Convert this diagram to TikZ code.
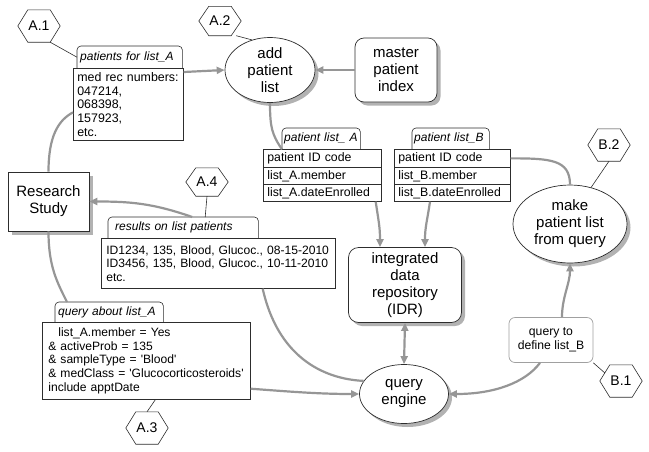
\documentclass[tikz,border=0pt]{standalone}
\usepackage{fontspec}
\setmainfont{Liberation Sans}
\usetikzlibrary{arrows.meta,shapes.geometric,shadows,calc}
\definecolor{conng}{RGB}{150,150,150}
\definecolor{edgec}{RGB}{45,45,45}
\definecolor{lightedge}{RGB}{160,160,160}
\newcommand\fbigtxt{\fontsize{15}{17}\selectfont}
\newcommand\fhextxt{\fontsize{14}{16}\selectfont}
\newcommand\fboxtxt{\fontsize{12.1}{13.6}\selectfont}
\newcommand\fmedtxt{\fontsize{12.4}{13.7}\selectfont}
\newcommand\frowtxt{\fontsize{12.3}{14}\selectfont}
\newcommand\ftabtxt{\fontsize{12}{13}\selectfont\itshape}
\newcommand\fqdtxt{\fontsize{12.2}{14}\selectfont}
\pgfdeclarelayer{bg}
\pgfsetlayers{bg,main}
\begin{document}
\begin{tikzpicture}[x=1pt,y=-1pt,
  shad/.style={drop shadow={shadow xshift=3.5pt,shadow yshift=-3.5pt,opacity=0.3,fill=black}},
  big/.style={font=\fbigtxt, align=center, inner sep=0pt},
  ell/.style={ellipse, draw=edgec, fill=white, line width=0.7pt, shad, big},
  rbox/.style={rectangle, rounded corners=9pt, draw=edgec, fill=white, line width=0.7pt, shad, big},
  sbox/.style={rectangle, draw=edgec, fill=white, line width=0.7pt, shad, big},
  qdefn/.style={rectangle, rounded corners=6pt, draw=lightedge, fill=white, line width=0.7pt, font=\fqdtxt, align=center, inner sep=0pt},
  hexn/.style={minimum width=22pt, inner sep=0pt, font=\fhextxt},
  hexline/.style={draw=edgec, fill=white, line width=0.6pt},
  tabn/.style={anchor=north west, inner xsep=3pt, inner ysep=0pt, font=\ftabtxt, align=left},
  tabline/.style={draw=edgec, fill=white, line width=0.6pt, rounded corners=4pt},
  txtbox/.style={anchor=north west, draw=edgec, fill=white, line width=0.7pt, inner ysep=0pt, align=left},
  rown/.style={anchor=north west, draw=edgec, fill=white, line width=0.7pt, inner xsep=4pt, inner ysep=0pt, font=\frowtxt, align=left},
  conn/.style={draw=conng, line width=2.2pt},
  arr/.style={conn, -{Triangle[length=8pt,width=7pt]}},
  darr/.style={conn, {Triangle[length=8pt,width=7pt]}-{Triangle[length=8pt,width=7pt]}},
  thinl/.style={draw=edgec, line width=0.6pt}
]
\useasboundingbox (0,0) rectangle (649,451);

% hexagon labels
\node[hexn, minimum height=32pt] (A1) at (39,26) {A.1};
\node[hexn, minimum height=29pt] (A2) at (220,21) {A.2};
\node[hexn, minimum height=32pt] (A3) at (147,428) {A.3};
\node[hexn, minimum height=28pt] (A4) at (207,182) {A.4};
\node[hexn, minimum height=32pt] (B1) at (621,381) {B.1};
\node[hexn, minimum height=32pt] (B2) at (609,145) {B.2};
\begin{pgfonlayer}{bg}
\foreach \h in {A1,A2,A3,A4,B1,B2}{
  \draw[hexline] (\h.north west) -- (\h.north east) -- ([xshift=10pt]\h.east) -- (\h.south east) -- (\h.south west) -- ([xshift=-10pt]\h.west) -- cycle;
}
\end{pgfonlayer}

% patients for list_A
\node[tabn, text width=99pt, minimum height=22pt] (tab1) at (77,46) {\mbox{patients for list\_A}};
\node[txtbox, font=\fmedtxt, inner xsep=4pt, text width=102pt, minimum height=72pt] (med) at (73,68) {\mbox{med rec numbers:}\\047214,\\068398,\\157923,\\etc.};

% add patient list, master patient index
\node[ell, minimum width=90pt, minimum height=65pt] (add) at (270,70) {add\\patient\\list};
\node[rbox, minimum width=82pt, minimum height=64pt] (mpi) at (396,70) {master\\patient\\index};

% patient list A
\node[tabn, inner xsep=2pt, text width=74pt, minimum height=21pt] (tabA) at (282,128) {\mbox{patient list\_ A}};
\node[rown, text width=110pt, minimum height=18pt] (tA1) at (263,149) {patient ID code};
\node[rown, text width=110pt, minimum height=17pt] (tA2) at (263,167) {list\_A.member};
\node[rown, text width=110pt, minimum height=17pt] (tA3) at (263,184) {list\_A.dateEnrolled};

% patient list B
\node[tabn, inner xsep=2pt, text width=73pt, minimum height=21pt] (tabB) at (412,128) {\mbox{patient list\_B}};
\node[rown, text width=108pt, minimum height=18pt] (tB1) at (394,149) {patient ID code};
\node[rown, text width=108pt, minimum height=17pt] (tB2) at (394,167) {list\_B.member};
\node[rown, text width=108pt, minimum height=17pt] (tB3) at (394,184) {list\_B.dateEnrolled};

% right side
\node[ell, minimum width=114pt, minimum height=78pt] (make) at (570,224) {make\\patient list\\from query};
\node[qdefn, minimum width=84pt, minimum height=45pt] (qdef) at (551,340) {query to\\define list\_B};
\node[rbox, rounded corners=10pt, minimum width=113pt, minimum height=75pt] (idr) at (405,285) {integrated\\data\\repository\\(IDR)};
\node[ell, minimum width=89pt, minimum height=59pt] (qeng) at (404,394) {query\\engine};

% research study
\node[sbox, minimum width=81pt, minimum height=59pt] (rs) at (48.5,201.5) {Research\\Study};

% results on list patients
\node[tabn, inner xsep=7pt, text width=136pt, minimum height=21pt] (restab) at (108,217) {\mbox{results on list patients}};
\node[txtbox, font=\fboxtxt, inner xsep=5pt, text width=224pt, minimum height=50pt] (resbox) at (101,238) {\mbox{ID1234, 135, Blood, Glucoc., 08-15-2010}\\\mbox{ID3456, 135, Blood, Glucoc., 10-11-2010}\\etc.};

% query about list_A
\node[tabn, text width=102pt, minimum height=20pt] (qtab) at (55,302) {\mbox{query about list\_A}};
\node[txtbox, font=\fboxtxt, inner xsep=6pt, text width=196pt, minimum height=77pt] (qbox) at (42,322) {\hspace*{10pt}list\_A.member = Yes\\\&\ activeProb = 135\\\&\ sampleType = \textquotesingle Blood\textquotesingle\\\mbox{\&\ medClass = \textquotesingle Glucocorticosteroids\textquotesingle}\\include apptDate};

% tab outlines
\begin{pgfonlayer}{bg}
\foreach \t in {tab1,tabA,tabB,restab,qtab}{
  \draw[tabline] (\t.south west) -- (\t.north west) -- (\t.north east) -- (\t.south east);
}
\end{pgfonlayer}

% thin label lines
\draw[thinl] (A1.south east) -- (tab1.west);
\draw[thinl] ([xshift=5pt]A2.south east) -- (add.121);
\draw[thinl] (A4.south) -- ([xshift=22pt]restab.north);
\draw[thinl] (A3.north) -- ([xshift=9pt]qbox.south);
\draw[thinl] (B2.south) -- (make.60);
\draw[thinl] ($(B1.north west)!0.5!(B1.west)+(-5,0)$) -- (qdef.south east);

% connectors
\draw[arr] ([yshift=-4pt]med.north east) -- (add.west);
\draw[arr] (mpi.west) -- (add.east);
\draw[conn] (add.south) .. controls +(0,25) and +(-10,-15) .. (tabA.south west);
\draw[arr] ([xshift=-6pt]tA3.south east) .. controls +(3,20) and +(0,-20) .. ([xshift=-25pt]idr.north);
\draw[arr] ([xshift=36pt]tB3.south west) .. controls +(-3,20) and +(0,-20) .. ([xshift=20pt]idr.north);
\draw[conn] (tB1.east) .. controls +(40,0) and +(0,-25) .. (make.north);
\draw[arr] ([xshift=11pt]qdef.north) .. controls +(0,-20) and +(0,20) .. (make.south);
\draw[arr] ([xshift=-11pt]qdef.south) .. controls +(-15,20) and +(45,0) .. (qeng.east);
\draw[darr] (idr.south) -- (qeng.north);
\draw[conn] (rs.north) .. controls +(0,-35) and +(-15,8) .. ([yshift=-8pt]med.west);
\draw[arr] ([xshift=9pt]restab.north) .. controls +(-40,-14) and +(40,0) .. (rs.east);
\draw[conn] (rs.south) .. controls +(0,35) and +(-10,-20) .. ([xshift=12pt]qtab.north west);
\draw[conn] ([xshift=-73pt]resbox.south east) .. controls +(15,67) and +(-42,-2) .. (qeng.162);
\draw[arr] ([yshift=11pt]qbox.south east) .. controls +(40,3) and +(-40,0) .. (qeng.west);
\end{tikzpicture}
\end{document}
